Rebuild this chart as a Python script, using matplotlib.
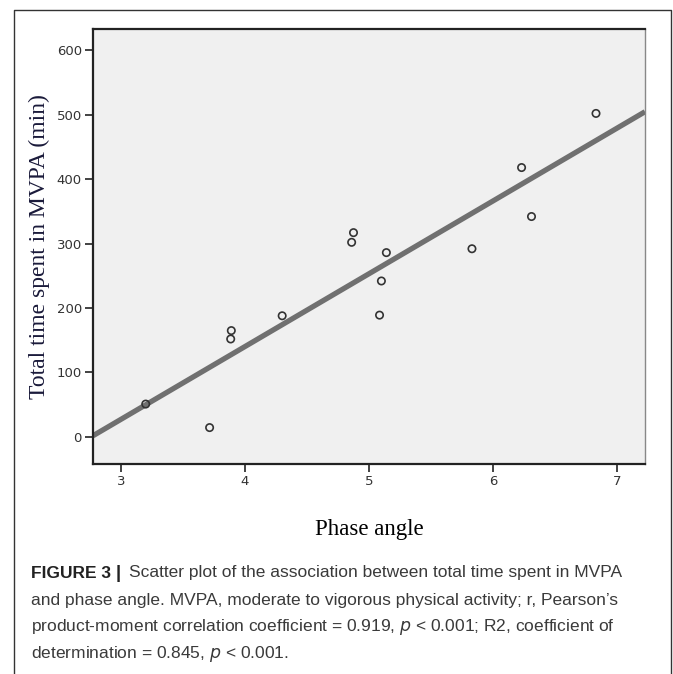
import numpy as np
import matplotlib
matplotlib.use('Agg')
import matplotlib.pyplot as plt
from matplotlib.lines import Line2D

# data
phase_angle = [3.20, 3.715, 3.885, 3.89, 4.30, 4.86, 4.875, 5.085, 5.10, 5.14, 5.83, 6.23, 6.31, 6.83]
mvpa_min = [51, 14.5, 152, 165, 188, 302, 317, 189, 242, 286, 292, 418, 342, 502]
x_ticks = [3, 4, 5, 6, 7]
y_ticks = [0, 100, 200, 300, 400, 500, 600]

W, H = 673, 674
fig = plt.figure(figsize=(W / 100, H / 100), dpi=100)
fig.patch.set_facecolor('white')

# outer frame (left, top, right)
fx = lambda px: px / W
fy = lambda py: 1 - py / H
fig.add_artist(Line2D([fx(13.5), fx(13.5), fx(670.5), fx(670.5)],
                      [0, fy(9.5), fy(9.5), 0], color='#333333', lw=1.0,
                      transform=fig.transFigure))

ax = fig.add_axes([fx(93), fy(464), fx(645) - fx(93), fy(29) - fy(464)])
ax.set_facecolor('#f0f0f0')
ax.set_xlim(2.775, 7.225)
ax.set_ylim(-42, 633)

# regression line over the whole x range
slope, icpt = np.polyfit(phase_angle, mvpa_min, 1)
xx = np.array(ax.get_xlim())
ax.plot(xx, icpt + slope * xx, color='#707070', lw=3.8, solid_capstyle='butt', zorder=2)

ax.scatter(phase_angle, mvpa_min, s=28, facecolors='none', edgecolors='#333333',
           linewidths=1.2, zorder=3)

for side in ['left', 'bottom', 'top']:
    ax.spines[side].set_color('#222222')
    ax.spines[side].set_linewidth(1.6)
ax.spines['right'].set_color('#888888')
ax.spines['right'].set_linewidth(1.0)

ax.set_xticks(x_ticks)
ax.set_yticks(y_ticks)
ax.tick_params(direction='out', length=6, width=1.2, color='#222222',
               labelsize=9.5, labelcolor='#333333', pad=2)

ax.set_xlabel('Phase angle', family=['Liberation Serif', 'DejaVu Serif'],
              fontsize=16.5, labelpad=22)
ax.set_ylabel('Total time spent in MVPA (min)', family=['Liberation Serif', 'DejaVu Serif'],
              fontsize=17, labelpad=5, color='#1a1a3a')

# caption
cap_font = ['Liberation Sans', 'DejaVu Sans']
cap_col = '#3a3a3a'
lines_y = [573, 600, 627, 654]
fig.text(fx(31), fy(lines_y[0]), 'FIGURE 3', fontsize=12.5, fontweight='bold',
         family=cap_font, va='center', color='#222222')
fig.text(fx(116), fy(lines_y[0]), '|', fontsize=13.5, fontweight='bold',
         family=cap_font, va='center', color='#222222')
fig.text(fx(129), fy(lines_y[0]), 'Scatter plot of the association between total time spent in MVPA',
         fontsize=12.5, family=cap_font, va='center', color=cap_col)
fig.text(fx(31), fy(lines_y[1]),
         'and phase angle. MVPA, moderate to vigorous physical activity; r, Pearson\u2019s',
         fontsize=12.5, family=cap_font, va='center', color=cap_col)
fig.text(fx(31), fy(lines_y[2]),
         'product-moment correlation coefficient = 0.919, $\\it{p}$ < 0.001; R2, coefficient of',
         fontsize=12.5, family=cap_font, va='center', color=cap_col)
fig.text(fx(31), fy(lines_y[3]), 'determination = 0.845, $\\it{p}$ < 0.001.',
         fontsize=12.5, family=cap_font, va='center', color=cap_col)

fig.savefig('out.png', dpi=100)
